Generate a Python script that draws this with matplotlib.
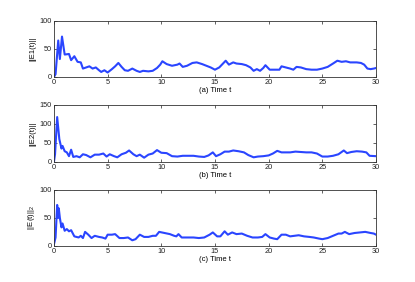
import numpy as np
import matplotlib
matplotlib.use("Agg")
import matplotlib.pyplot as plt

plt.rcParams['font.family'] = ['Liberation Sans', 'DejaVu Sans']
plt.rcParams['mathtext.fontset'] = 'custom'
plt.rcParams['mathtext.rm'] = 'Liberation Sans'

# panel (a) ||E1(t)||
t1 = [0, 0.15, 0.4, 0.55, 0.75, 1.0, 1.4, 1.6, 1.9, 2.2, 2.5, 2.7, 3.0, 3.3, 3.6, 3.9,
      4.2, 4.4, 4.7, 5.0, 5.4, 5.7, 6.0, 6.3, 6.6, 6.9, 7.3, 7.7, 8.0, 8.3, 8.8, 9.2,
      9.6, 9.9, 10.1, 10.5, 11.0, 11.5, 11.7, 12.0, 12.4, 12.9, 13.3, 13.8, 14.2, 14.6,
      15.0, 15.4, 15.7, 16.0, 16.3, 16.7, 17.0, 17.5, 17.9, 18.3, 18.6, 18.9, 19.2, 19.5,
      19.7, 20.1, 20.5, 21.0, 21.2, 21.6, 22.0, 22.3, 22.6, 23.0, 23.5, 24.0, 24.5, 25.0,
      25.5, 26.0, 26.4, 26.8, 27.2, 27.6, 28.2, 28.6, 28.9, 29.2, 29.5, 29.8, 30.0]
e1 = [0, 5, 65, 32, 72, 40, 41, 30, 37, 27, 26, 15, 17, 19, 15, 17,
      12, 9, 12, 8, 14, 19, 25, 18, 12, 11, 15, 11, 9, 11, 10, 11,
      16, 22, 28, 23, 20, 22, 24, 18, 20, 25, 26, 23, 20, 17,
      13, 17, 23, 29, 22, 26, 24, 23, 21, 17, 11, 14, 11, 16,
      21, 13, 13, 13, 19, 17, 15, 13, 18, 17, 14, 13, 13, 15,
      18, 24, 29, 27, 28, 26, 26, 25, 22, 15, 14, 15, 16]

# panel (b) ||E2(t)||
t2 = [0, 0.1, 0.3, 0.5, 0.7, 0.8, 1.0, 1.2, 1.4, 1.6, 1.8, 2.1, 2.4, 2.7, 3.0, 3.4,
      3.8, 4.2, 4.6, 4.9, 5.2, 5.6, 5.9, 6.3, 6.7, 7.0, 7.4, 7.7, 8.0, 8.4, 8.8, 9.2,
      9.6, 10.0, 10.5, 11.0, 11.5, 12.0, 12.5, 13.0, 13.5, 14.0, 14.4, 14.8, 15.1, 15.5,
      15.9, 16.3, 16.7, 17.2, 17.7, 18.1, 18.6, 19.0, 19.5, 20.0, 20.4, 20.8, 21.2, 21.6,
      22.0, 22.5, 23.0, 23.5, 24.0, 24.5, 25.0, 25.5, 26.0, 26.5, 27.0, 27.3, 27.7, 28.2,
      28.7, 29.1, 29.4, 30.0]
e2 = [0, 20, 118, 60, 35, 42, 28, 25, 15, 32, 13, 15, 12, 20, 18, 12,
      19, 19, 22, 14, 20, 15, 12, 20, 24, 30, 20, 15, 19, 11, 19, 22,
      31, 24, 23, 15, 14, 16, 16, 16, 14, 13, 17, 25, 15, 20,
      27, 27, 30, 28, 25, 18, 12, 14, 15, 17, 22, 29, 25, 25,
      25, 27, 26, 25, 25, 22, 14, 14, 16, 20, 30, 23, 26, 28,
      27, 25, 16, 15]

# panel (c) ||E(t)||_2
t3 = [0, 0.15, 0.3, 0.4, 0.45, 0.55, 0.7, 0.8, 1.0, 1.2, 1.4, 1.6, 1.9, 2.3, 2.5, 2.7,
      2.9, 3.2, 3.5, 3.8, 4.2, 4.5, 4.8, 5.0, 5.4, 5.7, 6.1, 6.5, 6.9, 7.3, 7.6, 8.0,
      8.4, 8.8, 9.2, 9.5, 9.8, 10.3, 10.8, 11.2, 11.4, 11.6, 11.9, 12.5, 13.0, 13.5,
      14.0, 14.5, 14.8, 15.2, 15.5, 15.9, 16.2, 16.6, 17.0, 17.5, 18.0, 18.5, 19.0, 19.4,
      19.7, 20.1, 20.5, 20.8, 21.2, 21.6, 22.0, 22.4, 22.8, 23.3, 23.8, 24.2, 24.7, 25.0,
      25.5, 26.0, 26.5, 26.8, 27.1, 27.5, 28.0, 28.5, 29.0, 29.5, 29.8, 30.0]
e3 = [3, 15, 73, 50, 67, 50, 33, 40, 27, 30, 26, 28, 17, 15, 18, 14,
      25, 20, 14, 18, 16, 15, 13, 20, 20, 21, 14, 14, 15, 10, 12, 20,
      16, 16, 18, 18, 25, 23, 21, 18, 17, 21, 15, 15, 15, 14,
      15, 20, 24, 17, 17, 26, 20, 24, 21, 22, 18, 15, 15, 16,
      21, 15, 13, 12, 20, 20, 17, 18, 19, 17, 16, 15, 13, 12,
      14, 18, 22, 22, 25, 21, 23, 24, 25, 23, 22, 20]

panels = [
    (t1, e1, [0, 50, 100], '||E1(t)||', '(a) Time t', [0.130, 0.727, 0.776, 0.199]),
    (t2, e2, [0, 50, 100, 150], '||E2(t)||', '(b) Time t', [0.130, 0.426, 0.776, 0.202]),
    (t3, e3, [0, 50, 100], r'$\mathrm{||E(t)||}_2$', '(c) Time t', [0.130, 0.128, 0.776, 0.199]),
]

fig = plt.figure(figsize=(4.15, 2.82), dpi=100)
for t, e, yt, ylab, xlab, pos in panels:
    ax = fig.add_axes(pos)
    ax.plot(t, e, color='#2a45ff', lw=1.5, solid_joinstyle='round')
    ax.set_xlim(0, 30)
    ax.set_ylim(yt[0], yt[-1])
    ax.set_xticks([0, 5, 10, 15, 20, 25, 30])
    ax.set_yticks(yt)
    ax.tick_params(direction='in', top=True, right=True, labelsize=5.3, length=2.5,
                   width=0.5, pad=1.5, colors='#222222')
    for s in ax.spines.values():
        s.set_linewidth(0.6)
        s.set_color('#333333')
    ax.set_xlabel(xlab, fontsize=5.5, labelpad=1)
    ax.set_ylabel(ylab, fontsize=5.5, labelpad=2)

fig.savefig('out.png', dpi=100)
